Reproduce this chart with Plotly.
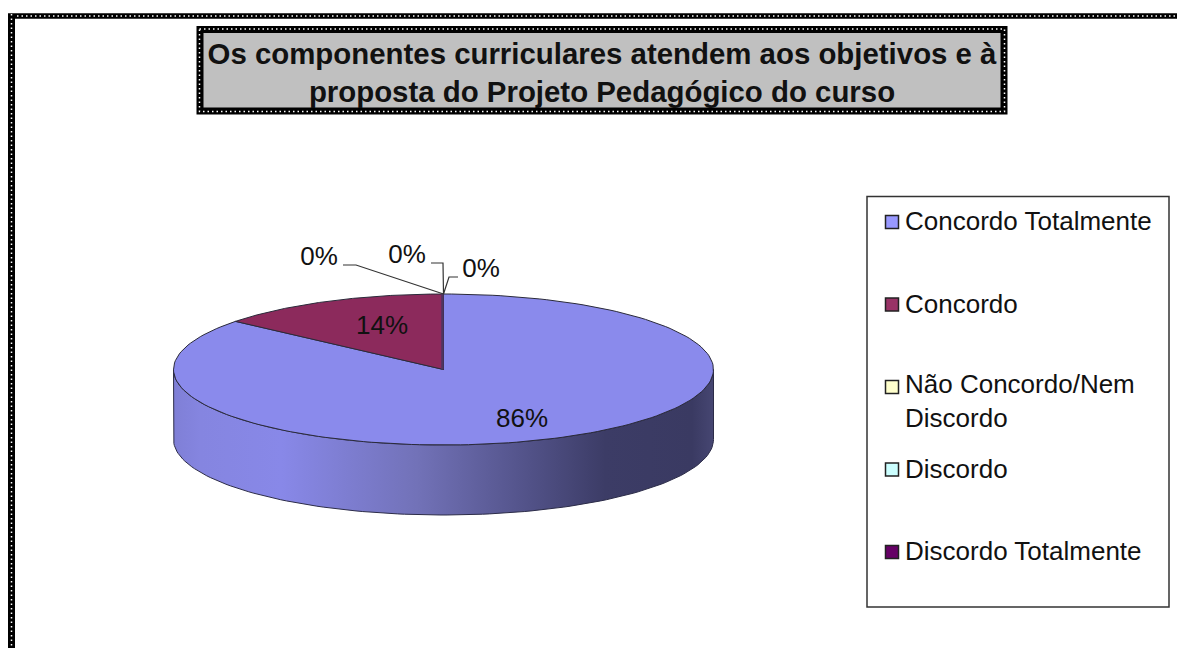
"""3D-style pie about the curricular components, drawn on a pixel-sized axis"""

import numpy as np
from plotly import graph_objects as go

TITLE = "Os componentes curriculares atendem aos objetivos e à<br>proposta do Projeto Pedagógico do curso"
CATEGORIES = [
    "Concordo Totalmente",
    "Concordo",
    "Não Concordo/Nem<br>Discordo",
    "Discordo",
    "Discordo Totalmente",
]
VALUES = [86, 14, 0, 0, 0]
SLICE_COLORS = ["#8a8aec", "#8c2a5c", "#ffffcc", "#ccffff", "#660066"]
SWATCH_COLORS = ["#9999ff", "#993366", "#ffffcc", "#ccffff", "#660066"]

WIDTH = 1177
HEIGHT = 648
FONT = "Liberation Sans"

# pie geometry in pixels
CX, CY = 443.5, 369.5
RX, RY = 270, 75.5
DEPTH = 70

SIDE_SCALE = [
    [0.0, "#7f7fd6"],
    [0.05, "#8585e0"],
    [0.2, "#8888e8"],
    [0.45, "#7272b8"],
    [0.65, "#53538a"],
    [0.8, "#3c3c66"],
    [0.96, "#3a3a62"],
    [1.0, "#464672"],
]

fig = go.Figure()


def ellipse(angles, dy=0.0):
    """Angles in degrees, clockwise from twelve o'clock"""
    rad = np.radians(angles)
    return CX + RX * np.sin(rad), CY + dy - RY * np.cos(rad)


cum = np.cumsum([0, *VALUES]) / sum(VALUES) * 360

# side wall: only the front half of the rim is visible
for i, val in enumerate(VALUES):
    start, stop = max(cum[i], 90), min(cum[i + 1], 270)
    if val == 0 or start >= stop:
        continue
    ang = np.linspace(start, stop, 120)
    x_top, y_top = ellipse(ang)
    x_bot, y_bot = ellipse(ang[::-1], DEPTH)
    fig.add_trace(
        go.Scatter(
            x=[*x_top, *x_bot, x_top[0]],
            y=[*y_top, *y_bot, y_top[0]],
            mode="lines",
            fill="toself",
            fillgradient=dict(
                type="horizontal",
                colorscale=SIDE_SCALE,
                start=CX - RX,
                stop=CX + RX,
            ),
            line=dict(color="#2c2c48", width=1),
        )
    )

# top face
for i, val in enumerate(VALUES):
    ang = np.linspace(cum[i], cum[i + 1], 180)
    x_rim, y_rim = ellipse(ang)
    fig.add_trace(
        go.Scatter(
            x=[CX, *x_rim, CX],
            y=[CY, *y_rim, CY],
            mode="lines",
            fill="toself",
            fillcolor=SLICE_COLORS[i],
            line=dict(color="#2a2a3a", width=1),
        )
    )

# shaded seam between the two visible slices
fig.add_trace(
    go.Scatter(
        x=[CX - 1, CX - 1],
        y=[CY - RY, CY],
        mode="lines",
        line=dict(color="#4e3560", width=2.5),
    )
)

# data labels, leader lines for the empty slices
LABEL_X = [522, 382, 319, 407, 481]
LABEL_Y = [420, 327, 258, 256, 270]
LEADERS = [
    ([343, 356, CX], [265, 265, CY - RY]),
    ([431, 443, CX], [263, 263, CY - RY]),
    ([458, 449, CX], [277, 277, CY - RY]),
]
for x_line, y_line in LEADERS:
    fig.add_trace(
        go.Scatter(
            x=x_line,
            y=y_line,
            mode="lines",
            line=dict(color="#333333", width=1.2),
        )
    )
fig.add_trace(
    go.Scatter(
        x=LABEL_X,
        y=LABEL_Y,
        mode="text",
        text=[f"{val}%" for val in VALUES],
        textposition="middle center",
        textfont=dict(family=FONT, size=26, color="#111111"),
    )
)

# legend
LEGEND_TOP = 222
LEGEND_STEP = 82.5
legend_y = [LEGEND_TOP + LEGEND_STEP * i for i in range(len(CATEGORIES))]
fig.add_trace(
    go.Scatter(
        x=[892] * len(CATEGORIES),
        y=legend_y,
        mode="markers",
        marker=dict(
            symbol="square",
            size=13,
            color=SWATCH_COLORS,
            line=dict(color="#222222", width=1.5),
        ),
    )
)
annotations = [
    dict(
        x=903,
        y=y + (15 if "<br>" in name else 0) - 1,
        text=name,
        xanchor="left",
        yanchor="middle",
        align="left",
        showarrow=False,
        font=dict(family=FONT, size=26, color="#111111"),
    )
    for name, y in zip(CATEGORIES, legend_y)
]

shapes = [
    # legend box
    dict(
        type="rect",
        x0=867,
        x1=1169,
        y0=196.5,
        y1=607,
        line=dict(color="#333333", width=1.5),
        fillcolor="rgba(0,0,0,0)",
        layer="below",
    ),
    # title box
    dict(
        type="rect",
        x0=200,
        x1=1004,
        y0=29.5,
        y1=111,
        line=dict(color="#000000", width=7),
        fillcolor="#c0c0c0",
        layer="below",
    ),
    dict(
        type="rect",
        x0=199.5,
        x1=1004.5,
        y0=29,
        y1=111.5,
        line=dict(color="#ffffff", width=1.5, dash="1.5px,3px"),
        fillcolor="rgba(0,0,0,0)",
        layer="below",
    ),
]
# outer frame, open on the right and at the bottom
for x_pair, y_pair, thick in [
    ((8, WIDTH), (16, 16), 5.5),
    ((11.5, 11.5), (14, HEIGHT), 7),
]:
    shapes.append(
        dict(
            type="line",
            x0=x_pair[0],
            x1=x_pair[1],
            y0=y_pair[0],
            y1=y_pair[1],
            line=dict(color="#000000", width=thick),
            layer="below",
        )
    )
    shapes.append(
        dict(
            type="line",
            x0=x_pair[0],
            x1=x_pair[1],
            y0=y_pair[0],
            y1=y_pair[1],
            line=dict(color="#ffffff", width=1.5, dash="1.5px,3px"),
            layer="below",
        )
    )

fig.update_layout(
    width=WIDTH,
    height=HEIGHT,
    margin=dict(l=0, r=0, t=0, b=0),
    paper_bgcolor="#ffffff",
    plot_bgcolor="#ffffff",
    showlegend=False,
    title=dict(
        text=TITLE,
        x=602 / WIDTH,
        y=1 - 64 / HEIGHT,
        xanchor="center",
        yanchor="middle",
        font=dict(family=FONT, size=29.4, color="#111111", weight="bold"),
    ),
    xaxis=dict(range=[0, WIDTH], visible=False),
    yaxis=dict(range=[HEIGHT, 0], visible=False),
    shapes=shapes,
    annotations=annotations,
)

fig.write_html(
    "out.html",
    config={"displayModeBar": False},
    post_script="document.body.style.margin='0';",
)
